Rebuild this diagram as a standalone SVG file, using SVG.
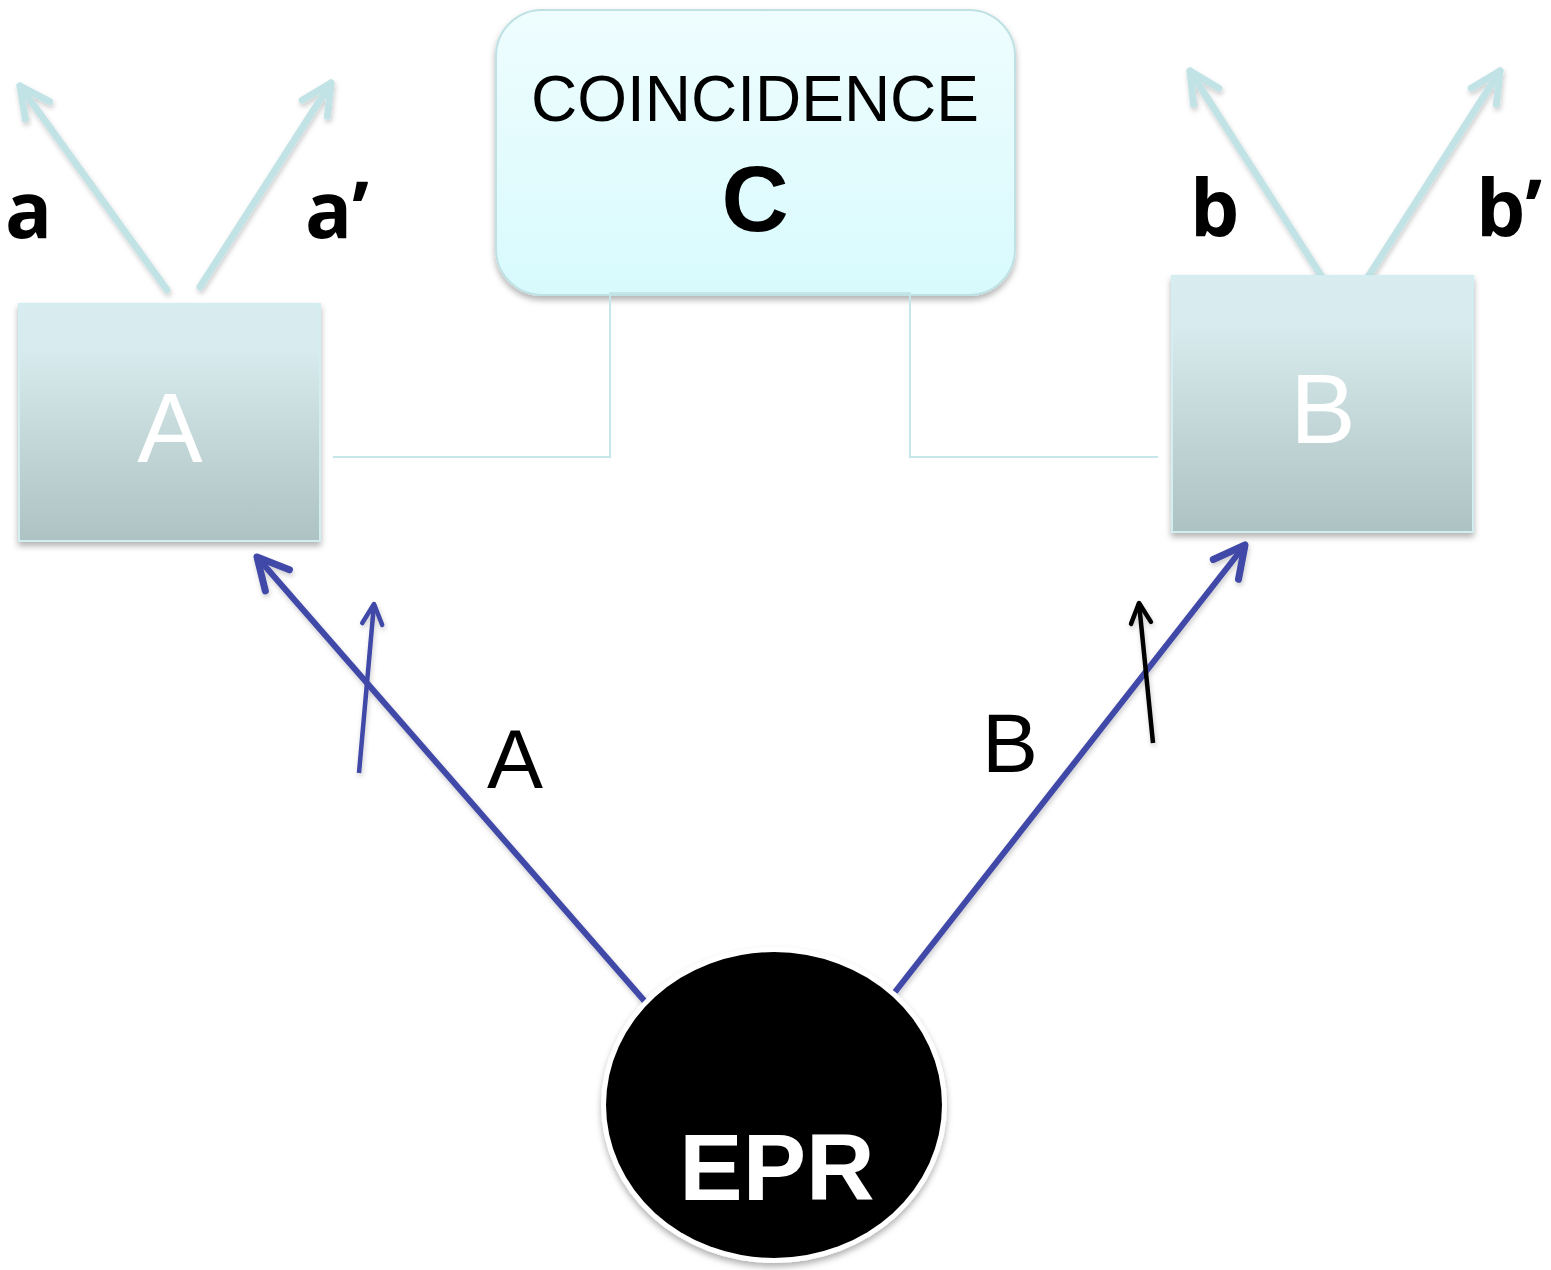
<svg xmlns="http://www.w3.org/2000/svg" width="1551" height="1270" viewBox="0 0 1551 1270">
  <style>
    .sans { font-family: "Liberation Sans", Arial, sans-serif; }
    .label { font-family: "Open Sans", "Noto Sans", sans-serif; font-weight: 700; font-size: 78px; fill: #000; }
    .box-letter { font-family: "Liberation Sans", Arial, sans-serif; font-size: 98px; fill: #fff; text-anchor: middle; }
    .path-letter { font-family: "Liberation Sans", Arial, sans-serif; font-size: 84px; fill: #000; text-anchor: middle; }
    .outcome { fill: none; stroke: #c2e3e6; stroke-width: 7; stroke-linecap: round; }
    .beam { fill: none; stroke: #4048a8; stroke-width: 6; stroke-linecap: butt; }
    .pol-blue { fill: none; stroke: #4048a8; stroke-width: 4.5; }
    .pol-black { fill: none; stroke: #000; stroke-width: 4.5; }
    .wire { fill: none; stroke: #c6e6e9; stroke-width: 2; }
  </style>
  <defs>
    <linearGradient id="detGrad" x1="0" y1="0" x2="0" y2="1">
      <stop offset="0" stop-color="#d9ecef"/>
      <stop offset="0.2" stop-color="#d7eaed"/>
      <stop offset="1" stop-color="#adc2c2"/>
    </linearGradient>
    <linearGradient id="coincGrad" x1="0" y1="0" x2="0" y2="1">
      <stop offset="0" stop-color="#effdfe"/>
      <stop offset="1" stop-color="#d8fafd"/>
    </linearGradient>
    <filter id="shadow" x="-10%" y="-10%" width="120%" height="125%">
      <feDropShadow dx="0" dy="4" stdDeviation="3" flood-color="#000" flood-opacity="0.3"/>
    </filter>
    <filter id="softShadow" x="-10%" y="-10%" width="120%" height="130%">
      <feDropShadow dx="1" dy="3" stdDeviation="2.5" flood-color="#000" flood-opacity="0.2"/>
    </filter>
    <!-- open chevron heads -->
    <marker id="headLight" markerUnits="userSpaceOnUse" orient="auto" refX="0" refY="0" markerWidth="80" markerHeight="80" overflow="visible">
      <path d="M-30,-15 L0,0 L-30,15" fill="none" stroke="#c2e3e6" stroke-width="7" stroke-linecap="round" stroke-linejoin="round"/>
    </marker>
    <marker id="headBlue" markerUnits="userSpaceOnUse" orient="auto" refX="0" refY="0" markerWidth="80" markerHeight="80" overflow="visible">
      <path d="M-31,-16 L0,0 L-31,16" fill="none" stroke="#4048a8" stroke-width="7" stroke-linecap="round" stroke-linejoin="round"/>
    </marker>
    <marker id="headBlueSmall" markerUnits="userSpaceOnUse" orient="auto" refX="0" refY="0" markerWidth="60" markerHeight="60" overflow="visible">
      <path d="M-20,-10 L0,0 L-20,10" fill="none" stroke="#4048a8" stroke-width="4.5" stroke-linecap="round" stroke-linejoin="round"/>
    </marker>
    <marker id="headBlack" markerUnits="userSpaceOnUse" orient="auto" refX="0" refY="0" markerWidth="60" markerHeight="60" overflow="visible">
      <path d="M-20,-10 L0,0 L-20,10" fill="none" stroke="#000" stroke-width="4.5" stroke-linecap="round" stroke-linejoin="round"/>
    </marker>
  </defs>

  <g id="coincidence">
    <rect x="496" y="10" width="519" height="285" rx="46" ry="46" fill="url(#coincGrad)" stroke="#bfe1e4" stroke-width="2" filter="url(#shadow)"/>
    <text class="sans" x="755" y="121" font-size="64" text-anchor="middle">COINCIDENCE</text>
    <text class="sans" x="755" y="231" font-size="93" font-weight="bold" text-anchor="middle">C</text>
  </g>

  <!-- coincidence wiring between detectors -->
  <g id="connectors">
    <path class="wire" d="M333,457 H610 V293 H910 V457 H1158"/>

    <!-- outcome channels -->
    <g filter="url(#softShadow)">
      <line class="outcome" x1="167" y1="290" x2="20" y2="86" marker-end="url(#headLight)"/>
      <line class="outcome" x1="200" y1="287" x2="331" y2="83" marker-end="url(#headLight)"/>
      <line class="outcome" x1="1322" y1="277" x2="1190" y2="71" marker-end="url(#headLight)"/>
      <line class="outcome" x1="1368" y1="277" x2="1500" y2="71" marker-end="url(#headLight)"/>
    </g>

    <!-- photon paths from the source -->
    <g filter="url(#softShadow)">
      <line class="beam" x1="648" y1="1005" x2="257" y2="557" marker-end="url(#headBlue)"/>
      <line class="beam" x1="895" y1="992" x2="1245" y2="545" marker-end="url(#headBlue)"/>
      <line class="pol-blue" x1="359" y1="773" x2="374" y2="604" marker-end="url(#headBlueSmall)"/>
      <line class="pol-black" x1="1153" y1="743" x2="1139" y2="603" marker-end="url(#headBlack)"/>
    </g>
  </g>

  <g id="detector-a">
    <rect x="19" y="304" width="301" height="237" fill="url(#detGrad)" stroke="#d3eef0" stroke-width="2" filter="url(#shadow)"/>
    <text class="box-letter" x="170" y="462">A</text>
  </g>

  <g id="detector-b">
    <rect x="1172" y="276" width="301" height="256" fill="url(#detGrad)" stroke="#d3eef0" stroke-width="2" filter="url(#shadow)"/>
    <text class="box-letter" x="1323" y="443">B</text>
  </g>

  <g id="source">
    <ellipse cx="774" cy="1105" rx="173" ry="158" fill="#fff" filter="url(#shadow)"/>
    <ellipse cx="774" cy="1105" rx="168" ry="153" fill="#000"/>
    <text class="sans" x="777" y="1200" font-size="95" font-weight="bold" fill="#fff" text-anchor="middle">EPR</text>
  </g>

  <g id="labels">
    <text class="label" x="5" y="238">a</text>
    <text class="label" x="305" y="238">a’</text>
    <text class="label" x="1190" y="236">b</text>
    <text class="label" x="1476" y="236">b’</text>
    <text class="path-letter" x="515" y="788">A</text>
    <text class="path-letter" x="1010" y="772">B</text>
  </g>
</svg>
